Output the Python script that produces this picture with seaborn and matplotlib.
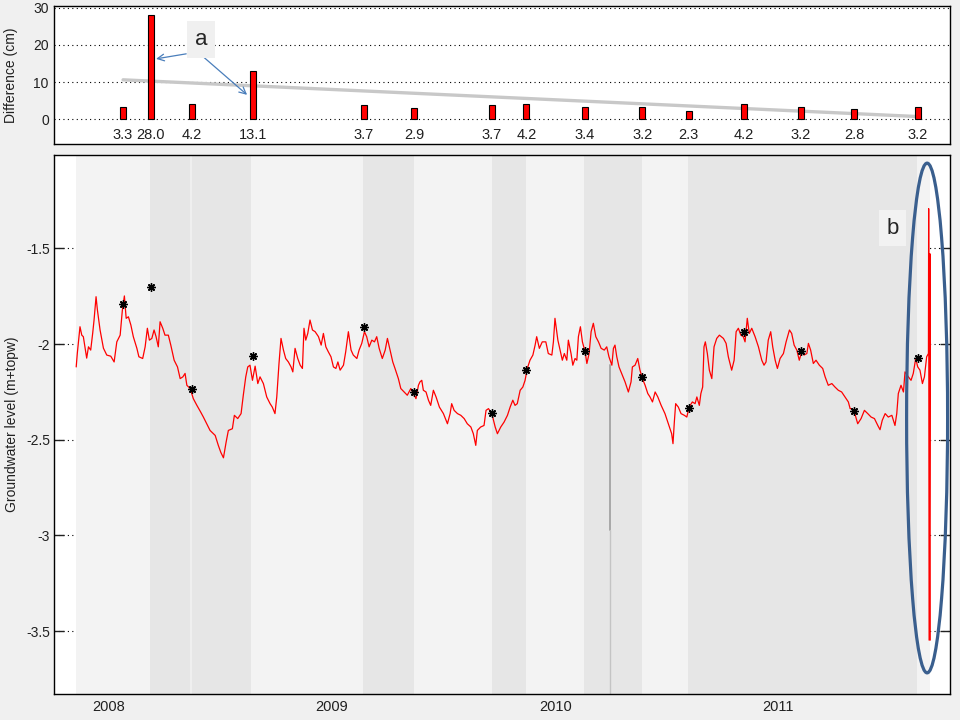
import matplotlib
matplotlib.use("Agg")
import matplotlib.pyplot as plt
from matplotlib.patches import Ellipse
import seaborn as sns

sns.set_theme(style="white")
plt.rcParams['font.family'] = ['Liberation Sans', 'DejaVu Sans']

# ---------------- data ----------------
# manual measurement dates (decimal years)
meas_year = [2008.063, 2008.187, 2008.372, 2008.644, 2009.143, 2009.369, 2009.717,
             2009.871, 2010.134, 2010.391, 2010.599, 2010.847, 2011.101, 2011.341, 2011.625]
diff_cm = [3.3, 28.0, 4.2, 13.1, 3.7, 2.9, 3.7, 4.2, 3.4, 3.2, 2.3, 4.2, 3.2, 2.8, 3.2]
manual_level = [-1.790, -1.699, -2.236, -2.061, -1.911, -2.250, -2.362, -2.136,
                -2.036, -2.173, -2.335, -1.937, -2.036, -2.351, -2.073]
trend_cm = [10.6, 0.7]

gw_year = [
    2007.853, 2007.858, 2007.870, 2007.878, 2007.885, 2007.900, 2007.908, 2007.918, 2007.927, 2007.933,
    2007.942, 2007.948, 2007.960, 2007.975, 2007.990, 2008.008, 2008.023, 2008.035, 2008.050, 2008.060,
    2008.069, 2008.077, 2008.087, 2008.098, 2008.109, 2008.125, 2008.134, 2008.151, 2008.162, 2008.172,
    2008.181, 2008.192, 2008.202, 2008.211, 2008.221, 2008.229, 2008.241, 2008.251, 2008.266, 2008.277,
    2008.292, 2008.307, 2008.319, 2008.331, 2008.341, 2008.349, 2008.364, 2008.378, 2008.394, 2008.411,
    2008.423, 2008.438, 2008.453, 2008.476, 2008.490, 2008.501, 2008.513, 2008.525, 2008.535, 2008.553,
    2008.562, 2008.577, 2008.592, 2008.602, 2008.613, 2008.622, 2008.632, 2008.643, 2008.655, 2008.667,
    2008.677, 2008.692, 2008.707, 2008.722, 2008.732, 2008.744, 2008.752, 2008.762, 2008.771, 2008.782,
    2008.792, 2008.804, 2008.816, 2008.824, 2008.834, 2008.846, 2008.857, 2008.867, 2008.874, 2008.882,
    2008.891, 2008.901, 2008.912, 2008.924, 2008.939, 2008.951, 2008.961, 2008.972, 2008.983, 2008.995,
    2009.006, 2009.017, 2009.026, 2009.036, 2009.051, 2009.061, 2009.073, 2009.085, 2009.095, 2009.111,
    2009.121, 2009.133, 2009.145, 2009.155, 2009.166, 2009.178, 2009.190, 2009.200, 2009.211, 2009.225,
    2009.238, 2009.248, 2009.260, 2009.272, 2009.282, 2009.297, 2009.308, 2009.323, 2009.337, 2009.353,
    2009.364, 2009.376, 2009.387, 2009.394, 2009.402, 2009.409, 2009.421, 2009.432, 2009.442, 2009.454,
    2009.466, 2009.481, 2009.499, 2009.517, 2009.529, 2009.536, 2009.547, 2009.562, 2009.577, 2009.592,
    2009.606, 2009.622, 2009.633, 2009.644, 2009.651, 2009.666, 2009.681, 2009.690, 2009.701, 2009.716,
    2009.731, 2009.741, 2009.756, 2009.771, 2009.786, 2009.798, 2009.810, 2009.820, 2009.830, 2009.843,
    2009.855, 2009.865, 2009.875, 2009.887, 2009.900, 2009.910, 2009.917, 2009.929, 2009.942, 2009.958,
    2009.969, 2009.985, 2009.992, 2009.999, 2010.012, 2010.022, 2010.032, 2010.041, 2010.052, 2010.059,
    2010.071, 2010.079, 2010.089, 2010.097, 2010.104, 2010.113, 2010.122, 2010.134, 2010.142, 2010.152,
    2010.161, 2010.171, 2010.182, 2010.194, 2010.206, 2010.220, 2010.231, 2010.241, 2010.254, 2010.261,
    2010.268, 2010.276, 2010.286, 2010.298, 2010.313, 2010.328, 2010.340, 2010.346, 2010.358, 2010.370,
    2010.380, 2010.391, 2010.403, 2010.415, 2010.425, 2010.436, 2010.448, 2010.460, 2010.475, 2010.492,
    2010.507, 2010.522, 2010.528, 2010.534, 2010.540, 2010.552, 2010.564, 2010.579, 2010.590, 2010.600,
    2010.615, 2010.627, 2010.635, 2010.646, 2010.653, 2010.661, 2010.667, 2010.673, 2010.682, 2010.691,
    2010.702, 2010.712, 2010.724, 2010.736, 2010.754, 2010.766, 2010.776, 2010.791, 2010.802, 2010.811,
    2010.821, 2010.832, 2010.843, 2010.851, 2010.861, 2010.870, 2010.881, 2010.896, 2010.911, 2010.926,
    2010.936, 2010.945, 2010.955, 2010.966, 2010.975, 2010.986, 2010.996, 2011.008, 2011.023, 2011.035,
    2011.050, 2011.060, 2011.071, 2011.083, 2011.094, 2011.105, 2011.115, 2011.128, 2011.135, 2011.145,
    2011.157, 2011.169, 2011.184, 2011.199, 2011.210, 2011.224, 2011.240, 2011.254, 2011.269, 2011.284,
    2011.299, 2011.314, 2011.322, 2011.329, 2011.341, 2011.356, 2011.371, 2011.386, 2011.401, 2011.416,
    2011.431, 2011.446, 2011.456, 2011.466, 2011.479, 2011.493, 2011.509, 2011.523, 2011.531, 2011.538,
    2011.550, 2011.561, 2011.568, 2011.583, 2011.595, 2011.605, 2011.616, 2011.625, 2011.635, 2011.646,
    2011.655, 2011.665, 2011.673, 2011.674, 2011.676, 2011.680, 2011.681,
]
gw_level = [
    -2.119, -2.047, -1.909, -1.953, -1.961, -2.073, -2.014, -2.031, -1.942, -1.874,
    -1.752, -1.821, -1.926, -2.021, -2.057, -2.063, -2.093, -1.988, -1.953, -1.821,
    -1.748, -1.865, -1.857, -1.900, -1.961, -2.022, -2.066, -2.075, -2.014, -1.917,
    -1.979, -1.970, -1.926, -1.961, -2.014, -1.883, -1.917, -1.953, -1.953, -2.005,
    -2.084, -2.119, -2.180, -2.171, -2.153, -2.215, -2.232, -2.285, -2.320, -2.355,
    -2.381, -2.416, -2.451, -2.477, -2.529, -2.565, -2.594, -2.512, -2.451, -2.442,
    -2.372, -2.389, -2.363, -2.267, -2.171, -2.119, -2.110, -2.189, -2.115, -2.206,
    -2.171, -2.206, -2.276, -2.311, -2.329, -2.363, -2.276, -2.101, -1.970, -2.031,
    -2.075, -2.093, -2.119, -2.145, -2.022, -2.075, -2.110, -2.127, -1.917, -1.979,
    -1.944, -1.874, -1.926, -1.935, -1.961, -2.005, -1.944, -2.014, -2.040, -2.066,
    -2.119, -2.127, -2.093, -2.136, -2.110, -2.040, -1.935, -2.031, -2.057, -2.075,
    -2.031, -1.996, -1.935, -1.961, -2.014, -1.979, -1.988, -1.961, -2.022, -2.075,
    -2.031, -1.970, -2.031, -2.093, -2.127, -2.180, -2.232, -2.250, -2.267, -2.232,
    -2.258, -2.285, -2.215, -2.197, -2.189, -2.241, -2.250, -2.293, -2.320, -2.241,
    -2.276, -2.329, -2.363, -2.416, -2.363, -2.311, -2.346, -2.363, -2.372, -2.389,
    -2.416, -2.433, -2.468, -2.529, -2.451, -2.433, -2.425, -2.346, -2.337, -2.363,
    -2.433, -2.468, -2.433, -2.407, -2.372, -2.329, -2.293, -2.320, -2.311, -2.241,
    -2.224, -2.189, -2.127, -2.084, -2.057, -2.005, -1.961, -2.022, -1.988, -1.988,
    -2.049, -2.057, -1.988, -1.865, -1.979, -2.031, -2.084, -2.049, -2.084, -1.979,
    -2.049, -2.110, -2.075, -2.084, -1.961, -1.909, -1.988, -2.040, -2.101, -2.049,
    -1.935, -1.891, -1.961, -1.988, -2.022, -2.031, -2.014, -2.066, -2.110, -2.022,
    -2.005, -2.066, -2.119, -2.153, -2.197, -2.250, -2.197, -2.119, -2.110, -2.075,
    -2.136, -2.180, -2.215, -2.258, -2.276, -2.302, -2.250, -2.276, -2.320, -2.363,
    -2.416, -2.468, -2.520, -2.407, -2.311, -2.329, -2.363, -2.372, -2.381, -2.329,
    -2.302, -2.311, -2.276, -2.320, -2.258, -2.224, -2.014, -1.988, -2.049, -2.136,
    -2.180, -2.014, -1.970, -1.953, -1.970, -1.996, -2.066, -2.136, -2.084, -1.935,
    -1.917, -1.953, -1.961, -1.988, -1.865, -1.944, -1.917, -1.961, -2.014, -2.084,
    -2.110, -2.093, -1.979, -1.935, -2.014, -2.084, -2.127, -2.075, -2.049, -1.988,
    -1.926, -1.944, -2.005, -2.031, -2.084, -2.040, -2.057, -2.049, -1.996, -2.031,
    -2.101, -2.084, -2.110, -2.127, -2.171, -2.215, -2.206, -2.224, -2.241, -2.250,
    -2.276, -2.302, -2.337, -2.337, -2.355, -2.416, -2.389, -2.346, -2.363, -2.381,
    -2.389, -2.425, -2.447, -2.398, -2.363, -2.381, -2.372, -2.425, -2.363, -2.258,
    -2.215, -2.250, -2.145, -2.171, -2.189, -2.153, -2.075, -2.119, -2.136, -2.206,
    -2.171, -2.066, -2.049, -1.292, -3.547, -1.528, -3.547,
]

# grey logger-2 trace (single drop in spring 2010)
grey_year = 2010.246
grey_level = [-2.11, -2.97, -3.83]

# shaded periods between measurements
band_edges = [2007.853, 2008.184, 2008.364, 2008.372, 2008.637, 2009.139, 2009.367,
              2009.717, 2009.869, 2010.129, 2010.389, 2010.596, 2011.622, 2011.680]
band_shade = ['light', 'dark', 'gap', 'dark', 'light', 'dark', 'light',
              'dark', 'light', 'dark', 'light', 'dark', 'light']
shade_colors = {'light': '#f3f3f3', 'dark': '#e6e6e6', 'gap': '#efefef'}

year_ticks = [2008, 2009, 2010, 2011]
year_labels = ['2008', '2009', '2010', '2011']
level_ticks = [-3.5, -3.0, -2.5, -2.0, -1.5]
level_labels = ['-3.5', '-3', '-2.5', '-2', '-1.5']
diff_ticks = [0, 10, 20, 30]

# ---------------- figure ----------------
fig = plt.figure(figsize=(9.6, 7.2), dpi=100, facecolor='#f0f0f0')
ax1 = fig.add_axes([0.0566, 0.800, 0.9333, 0.1917])
ax2 = fig.add_axes([0.0566, 0.0357, 0.9333, 0.7494], sharex=ax1)

dotted = (0, (1, 3))

# ---- top panel ----
ax1.set_facecolor('white')
ax1.set_axisbelow(True)
ax1.yaxis.grid(True, linestyle=dotted, color='black', linewidth=0.8)
ax1.xaxis.grid(False)
sns.lineplot(x=[meas_year[0], meas_year[-1]], y=trend_cm, ax=ax1,
             color='#c8c8c8', linewidth=2.4, zorder=2)
ax1.bar(meas_year, diff_cm, width=0.027, color='#ff0000', edgecolor='black',
        linewidth=0.8, zorder=3)
for x, v in zip(meas_year, diff_cm):
    ax1.text(x, -5.3, f'{v:.1f}', ha='center', va='baseline', fontsize=10.5,
             color='#202020', zorder=4)
ax1.set_ylim(-6.7, 30.5)
ax1.set_yticks(diff_ticks)
ax1.tick_params(axis='x', which='both', bottom=False, top=False, labelbottom=False)
ax1.tick_params(axis='y', direction='in', length=0, labelsize=10, pad=4, colors='#202020')
ax1.set_ylabel('Difference (cm)', fontsize=10, color='#202020')
ax1.yaxis.set_label_coords(-0.040, 0.5)

arrow_kw = dict(arrowstyle='->', color='#4a7ebb', lw=0.9, shrinkA=0, shrinkB=0)
ax1.annotate('', xy=(2008.211, 16.25), xytext=(2008.346, 17.6), arrowprops=arrow_kw, zorder=4)
ax1.annotate('', xy=(2008.619, 6.55), xytext=(2008.413, 17.3), arrowprops=arrow_kw, zorder=4)
ax1.text(2008.413, 21.4, 'a', fontsize=16, ha='center', va='center', zorder=5,
         bbox=dict(boxstyle='square,pad=0.35', fc='#f0f0f0', ec='none'))

# ---- bottom panel ----
ax2.set_facecolor('white')
ax2.set_axisbelow(True)
ax2.yaxis.grid(True, linestyle=dotted, color='black', linewidth=0.8)
ax2.xaxis.grid(False)
for e0, e1, s in zip(band_edges[:-1], band_edges[1:], band_shade):
    ax2.axvspan(e0, e1, color=shade_colors[s], lw=0, zorder=1)

ax2.plot([grey_year, grey_year], grey_level[:2], color='#a8a8a8', lw=1.4, zorder=2)
ax2.plot([grey_year, grey_year], grey_level[1:], color='#c4c4c4', lw=1.0, zorder=2)

sns.lineplot(x=gw_year, y=gw_level, ax=ax2, color='#ff0000', linewidth=0.9,
             sort=False, estimator=None, zorder=3)
ax2.plot(meas_year, manual_level, linestyle='none', marker=(8, 2, 0), markersize=6,
         markeredgecolor='black', markeredgewidth=1.0, zorder=4)

ax2.add_patch(Ellipse((2011.667, -2.386), width=0.1838, height=2.664, fill=False,
                      edgecolor='#3a5f8e', linewidth=2.3, zorder=6))
ax2.text(2011.512, -1.394, 'b', fontsize=16, ha='center', va='center', zorder=5,
         bbox=dict(boxstyle='square,pad=0.35', fc='#f2f2f2', ec='none'))

ax2.set_ylim(-3.83, -1.01)
ax2.set_yticks(level_ticks, level_labels)
ax2.set_xticks(year_ticks, year_labels)
ax2.set_xlim(2007.755, 2011.771)
ax2.tick_params(axis='y', direction='in', length=7, width=1, left=True, right=True,
                labelsize=10, pad=3, colors='#202020')
ax2.tick_params(axis='x', length=0, pad=4, labelsize=10.5, colors='#202020')
ax2.set_ylabel('Groundwater level (m+topw)', fontsize=10, color='#202020')
ax2.yaxis.set_label_coords(-0.039, 0.5)
ax2.set_xlabel('')

for ax in (ax1, ax2):
    for sp in ax.spines.values():
        sp.set_visible(True)
        sp.set_color('black')
        sp.set_linewidth(1.0)

fig.savefig('out.png', dpi=100, facecolor=fig.get_facecolor())
